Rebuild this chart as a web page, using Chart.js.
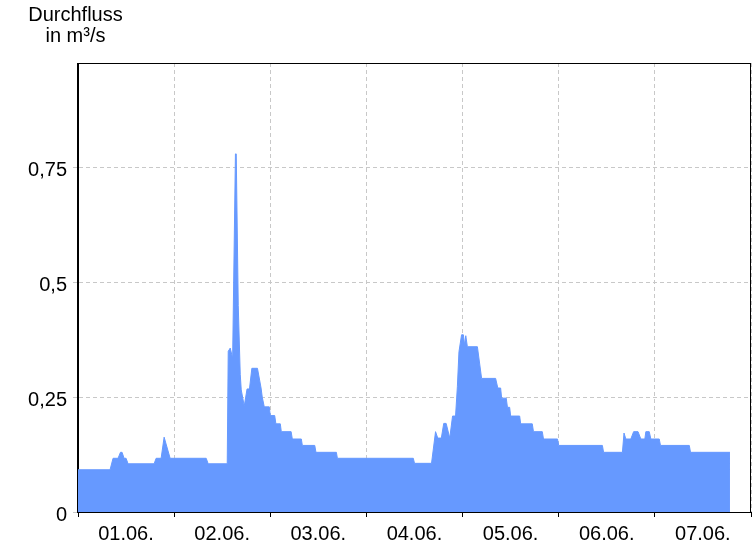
<!DOCTYPE html>
<html><head><meta charset="utf-8">
<script src="https://cdn.jsdelivr.net/npm/chart.js@4/dist/chart.umd.min.js"></script>
<style>html,body{margin:0;padding:0;background:#fff}</style>
</head><body>
<canvas id="c" width="756" height="546"></canvas>
<script>
const titleLines = ['Durchfluss', 'in m³/s'];
const dayLabels = ['01.06.', '02.06.', '03.06.', '04.06.', '05.06.', '06.06.', '07.06.'];
const dayTicks = [0, 24, 48, 72, 96, 120, 144, 168];
const yTicks = [0, 0.25, 0.5, 0.75];
const yTickLabels = ['0', '0,25', '0,5', '0,75'];
// hours since 01.06. 00:00
const hours = [0, 8.0, 8.75, 10.0, 10.6, 11.0, 11.5, 12.0, 12.5, 19.0, 19.5, 20.75, 21.5, 23.0, 32.0, 32.5, 37.25,
  37.5, 38.0, 38.6, 39.3, 39.5, 40.0, 40.5, 40.75, 41.5, 42.2, 42.8, 43.4, 44.8, 45.7, 46.0, 46.5, 47.75,
  48.0, 49.1, 49.4, 50.5, 50.75, 53.2, 53.5, 55.75, 56.0, 59.1, 59.4, 64.5, 64.75, 83.7, 84.0, 88.25,
  89.25, 89.8, 90.7, 91.3, 91.9, 92.8, 93.5, 94.25, 94.7, 95.1, 95.75, 96.2, 96.5, 96.8, 97.2, 99.7,
  100.75, 104.25, 104.8, 105.5, 105.75, 106.9, 107.2, 107.75, 108.0, 110.25, 110.5, 113.4, 113.7, 115.9,
  116.2, 119.7, 120.0, 130.9, 131.2, 135.9, 136.3, 136.75, 138.0, 138.7, 139.8, 140.5, 141.5, 141.75,
  142.6, 143.0, 145.1, 145.4, 152.6, 152.9, 162.75];
const flow = [0.092, 0.092, 0.117, 0.117, 0.130, 0.130, 0.117, 0.117, 0.105, 0.105, 0.117, 0.117, 0.163, 0.117, 0.117, 0.105, 0.105,
  0.350, 0.357, 0.335, 0.780, 0.780, 0.450, 0.300, 0.266, 0.231, 0.268, 0.268, 0.313, 0.313, 0.270, 0.250, 0.229, 0.229,
  0.210, 0.210, 0.192, 0.192, 0.175, 0.175, 0.159, 0.159, 0.145, 0.145, 0.130, 0.130, 0.117, 0.117, 0.106, 0.106,
  0.175, 0.161, 0.161, 0.193, 0.193, 0.161, 0.209, 0.209, 0.273, 0.349, 0.386, 0.386, 0.364, 0.384, 0.360, 0.360,
  0.291, 0.291, 0.270, 0.270, 0.248, 0.248, 0.228, 0.228, 0.209, 0.209, 0.192, 0.192, 0.175, 0.175,
  0.159, 0.159, 0.145, 0.145, 0.130, 0.130, 0.172, 0.159, 0.159, 0.175, 0.175, 0.159, 0.159, 0.175,
  0.175, 0.159, 0.159, 0.145, 0.145, 0.130, 0.130];

const FONT = 'Liberation Sans, Arial, sans-serif';
const points = hours.map((h, i) => ({x: h, y: flow[i]}));

const framePlugin = {
  id: 'frame',
  afterDraw(chart) {
    const {ctx, chartArea: a} = chart;
    ctx.save();
    ctx.strokeStyle = '#000';
    ctx.lineWidth = 1;
    ctx.strokeRect(Math.round(a.left) - 0.5, Math.round(a.top) + 0.5, Math.round(a.right - a.left), Math.round(a.bottom - a.top));
    ctx.fillStyle = '#000';
    ctx.font = '20px ' + FONT;
    ctx.textAlign = 'center';
    ctx.textBaseline = 'alphabetic';
    ctx.fillText(titleLines[0], 75.5, 20.5);
    ctx.fillText(titleLines[1], 75.5, 42);
    ctx.restore();
  }
};

new Chart(document.getElementById('c'), {
  type: 'line',
  data: {
    datasets: [{
      data: points,
      fill: 'origin',
      backgroundColor: '#6699ff',
      borderColor: '#6699ff',
      borderWidth: 1,
      pointRadius: 0,
      tension: 0
    }]
  },
  options: {
    responsive: false,
    animation: false,
    devicePixelRatio: 1,
    layout: {padding: {top: 63, right: 5, left: 0, bottom: 0}},
    plugins: {legend: {display: false}, tooltip: {enabled: false}, title: {display: false}},
    scales: {
      x: {
        type: 'linear', min: 0, max: 168,
        afterFit(s) { s.height = 34; },
        afterBuildTicks(s) { s.ticks = dayTicks.map(v => ({value: v})); },
        ticks: {
          autoSkip: false, maxRotation: 0, minRotation: 0,
          color: '#000', font: {family: FONT, size: 20}, padding: 5,
          labelOffset: 48,
          callback: (v, i) => dayLabels[i] || ''
        },
        grid: {color: '#c8c8c8', tickColor: '#000', tickLength: 5, tickBorderDash: [], lineWidth: 1},
        border: {display: true, color: '#000', dash: [4, 3]}
      },
      y: {
        min: 0, max: 0.978,
        afterFit(s) { s.width = 78; },
        afterBuildTicks(s) { s.ticks = yTicks.map(v => ({value: v})); },
        ticks: {
          color: '#000', font: {family: FONT, size: 20}, padding: 6,
          labelOffset: 3,
          callback: (v, i) => yTickLabels[i]
        },
        grid: {color: '#c8c8c8', tickColor: '#c8c8c8', tickLength: 5, tickBorderDash: [], lineWidth: 1},
        border: {display: true, color: '#000', dash: [4, 3]}
      }
    }
  },
  plugins: [framePlugin]
});
</script>
</body></html>
